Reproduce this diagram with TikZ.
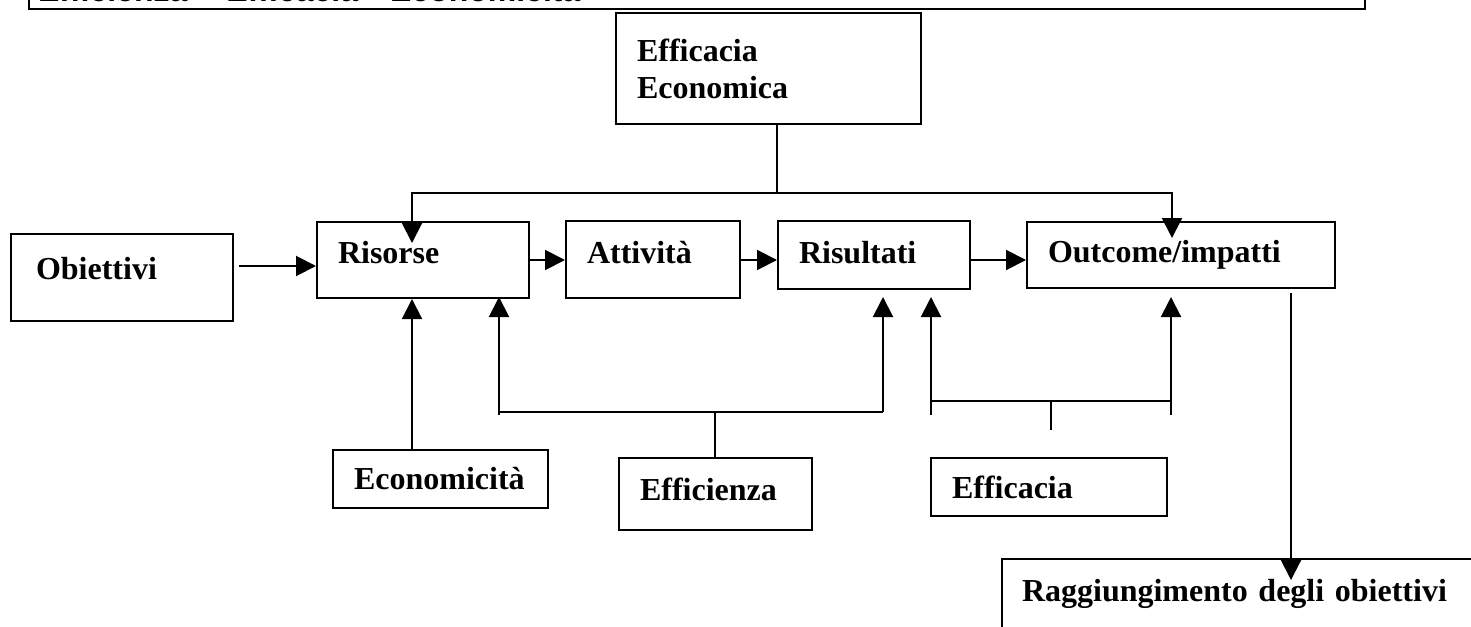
\documentclass[tikz,border=0pt]{standalone}
\usepackage{fontspec}
\setmainfont{Liberation Serif}
\newfontfamily\headfont{Liberation Sans}
\usetikzlibrary{arrows.meta}
\usetikzlibrary{calc}
\tikzset{
	blk/.style={draw, line width=1pt, anchor=north west, inner sep=0pt, inner xsep=10.5pt, align=left, font=\fontsize{16}{18.5}\selectfont\bfseries},
	tbox/.style={blk, text height=11pt},
}

\begin{document}
\begin{tikzpicture}[x=0.5pt,y=-0.5pt,>={Triangle[length=10pt,width=10pt]},line width=1pt]
					\useasboundingbox (0,0) rectangle (1471,626);
					\clip (0,0) rectangle (1471,626);
					\node[blk, anchor=south west, inner xsep=4.5pt, text width=659pt, minimum height=18.5pt, text height=11pt, text depth=0pt, font=\fontsize{16}{18.5}\selectfont\headfont\bfseries] (head) at (28,10) {Efficienza – Efficacia - Economicità};
					\node[blk, text width=131.5pt, minimum height=55.5pt] (effeco) at (615,12) {Efficacia\\Economica};
					\node[tbox, inner xsep=12.5pt, text width=86pt, minimum height=43.5pt, text depth=9.5pt] (obj) at (10,233) {Obiettivi};
					\node[tbox, text width=85pt, minimum height=38pt, text depth=8pt] (ris) at (316,221) {Risorse};
					\node[tbox, text width=66pt, minimum height=38.5pt, text depth=7.5pt] (act) at (565,220) {Attività};
					\node[tbox, text width=75pt, minimum height=34pt, text depth=3pt] (rst) at (777,220) {Risultati};
					\node[tbox, text width=133pt, minimum height=33pt, text depth=4pt] (out) at (1026,221) {Outcome/impatti};
					\node[tbox, text width=86.5pt, minimum height=29pt, text depth=1pt] (econ) at (332,449) {Economicità};
					\node[tbox, text width=75.5pt, minimum height=36pt, text depth=5pt] (effz) at (618,457) {Efficienza};
					\node[tbox, text width=97pt, minimum height=29pt, text depth=0pt] (effc) at (930,457) {Efficacia};
					\node[tbox, inner xsep=10pt, text width=229pt, minimum height=41pt, text depth=10pt] (rag) at (1001,558) {Raggiungimento degli obiettivi};
					\coordinate (a0) at (239,266);
					\coordinate (jt) at (777,193);
					\coordinate (tr) at (412,243);
					\coordinate (to) at (1172,238);
					\coordinate (b1) at (715,412);
					\coordinate (b1l) at (499,415);
					\coordinate (b1r) at (883,412);
					\coordinate (b2) at (1051,401);
					\coordinate (b2l) at (931,415);
					\coordinate (b2r) at (1171,415);
					\coordinate (od) at (1291,293);
					\draw[->] (a0) -- (a0 -| ris.west);
					\draw[->] (ris.east) -- (ris.east -| act.west);
					\draw[->] (act.east |- ris.east) -- (ris.east -| rst.west);
					\draw[->] (rst.east |- ris.east) -- (ris.east -| out.west);
					\draw (effeco.south -| jt) -- (jt);
					\draw[->] (jt) -| (tr);
					\draw[->] (jt) -| (to);
					\draw[->] (econ.north -| tr) -- (ris.south -| tr);
					\draw (effz.north -| b1) -- (b1);
					\draw (b1l |- b1) -- (b1r);
					\draw[->] (b1l) -- ([yshift=1pt]ris.south -| b1l);
					\draw[->] (b1r) -- ([yshift=-3.5pt]rst.south -| b1r);
					\draw (b2) -- ([yshift=13.5pt]effc.north -| b2);
					\draw (b2l |- b2) -- (b2r |- b2);
					\draw[->] (b2l) -- ([yshift=-3.5pt]rst.south -| b2l);
					\draw[->] (b2r) -- ([yshift=-4pt]out.south -| b2r);
					\draw[->] (od) -- ([yshift=-11pt]rag.north -| od);
					\end{tikzpicture}
\end{document}
